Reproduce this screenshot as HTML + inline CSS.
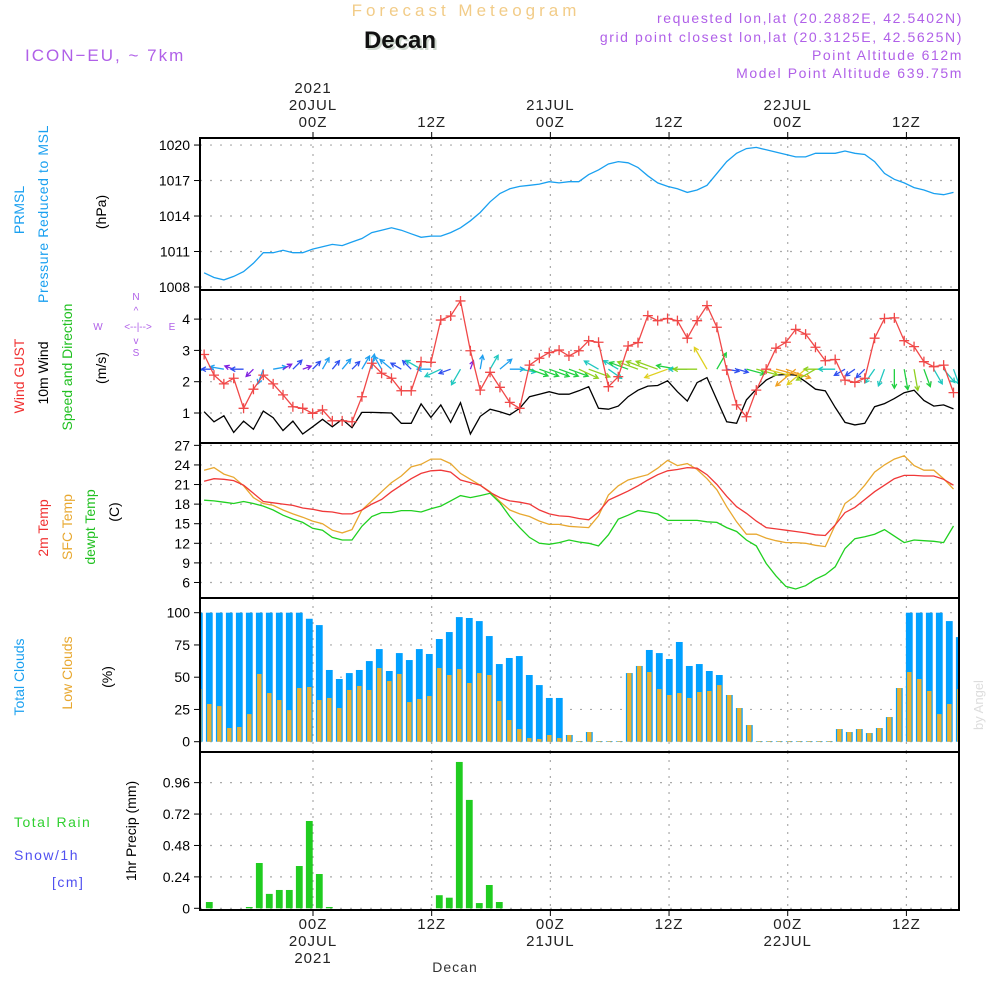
<!DOCTYPE html>
<html><head><meta charset="utf-8"><style>
html,body{margin:0;padding:0;background:#fff;}
svg{display:block;}
text{font-family:"Liberation Sans",sans-serif;}
</style></head><body>
<svg id="chart" width="1000" height="1000" viewBox="0 0 1000 1000" xmlns="http://www.w3.org/2000/svg">
<rect x="0" y="0" width="1000" height="1000" fill="#fff"/>
<text x="466" y="16" text-anchor="middle" font-size="17" fill="#f2cc88" letter-spacing="4">Forecast Meteogram</text>
<text x="400" y="48" text-anchor="middle" font-size="24" font-weight="bold" fill="#cfd8cf" font-family="Liberation Mono, Liberation Serif, monospace" transform="translate(2,2)">Decan</text>
<text x="400" y="48" text-anchor="middle" font-size="24" font-weight="bold" fill="#111" font-family="Liberation Mono, Liberation Serif, monospace">Decan</text>
<text x="25" y="61" font-size="17" fill="#b060e8" letter-spacing="2">ICON−EU, ~ 7km</text>
<g fill="#b060e8" font-size="14" text-anchor="end" letter-spacing="1.6">
<text x="963" y="23">requested lon,lat (20.2882E, 42.5402N)</text>
<text x="963" y="42">grid point closest lon,lat (20.3125E, 42.5625N)</text>
<text x="963" y="60">Point Altitude 612m</text>
<text x="963" y="78">Model Point Altitude 639.75m</text>
</g>
<g font-size="14">
<text transform="translate(24,210) rotate(-90)" text-anchor="middle" fill="#1aa0f0">PRMSL</text>
<text transform="translate(48,214) rotate(-90)" text-anchor="middle" fill="#1aa0f0" letter-spacing="0.6">Pressure Reduced to MSL</text>
<text transform="translate(106,212) rotate(-90)" text-anchor="middle" fill="#000">(hPa)</text>
<text transform="translate(24,376) rotate(-90)" text-anchor="middle" fill="#f03030">Wind GUST</text>
<text transform="translate(48,373) rotate(-90)" text-anchor="middle" fill="#000">10m Wind</text>
<text transform="translate(72,367) rotate(-90)" text-anchor="middle" fill="#20c020">Speed and Direction</text>
<text transform="translate(106,368) rotate(-90)" text-anchor="middle" fill="#000">(m/s)</text>
<text transform="translate(48,528) rotate(-90)" text-anchor="middle" fill="#f03030">2m Temp</text>
<text transform="translate(72,527) rotate(-90)" text-anchor="middle" fill="#e8a830">SFC Temp</text>
<text transform="translate(95,527) rotate(-90)" text-anchor="middle" fill="#20c020">dewpt Temp</text>
<text transform="translate(119,512) rotate(-90)" text-anchor="middle" fill="#000">(C)</text>
<text transform="translate(24,677) rotate(-90)" text-anchor="middle" fill="#1aa0f0">Total Clouds</text>
<text transform="translate(72,673) rotate(-90)" text-anchor="middle" fill="#e8a830">Low Clouds</text>
<text transform="translate(112,677) rotate(-90)" text-anchor="middle" fill="#000">(%)</text>
<text transform="translate(136,831) rotate(-90)" text-anchor="middle" fill="#000">1hr Precip (mm)</text>
<text x="14" y="827" fill="#30d030" letter-spacing="1.5">Total  Rain</text>
<text x="14" y="860" fill="#5050f0" letter-spacing="1.5">Snow/1h</text>
<text x="52" y="887" fill="#5050f0" letter-spacing="1.5">[cm]</text>
</g>
<g fill="#b060e8" font-size="10" text-anchor="middle">
<text x="136" y="300">N</text><text x="136" y="314">^</text>
<text x="98" y="330">W</text><text x="138" y="330">&lt;--|--&gt;</text><text x="172" y="330">E</text>
<text x="136" y="344">v</text><text x="136" y="356">S</text>
</g>
<text transform="translate(983,705) rotate(-90)" text-anchor="middle" font-size="13" fill="#dddddd" font-family="Liberation Serif">by Angel</text>
<text x="455" y="972" text-anchor="middle" font-size="14" fill="#333" font-family="Liberation Mono" letter-spacing="1">Decan</text>
<g id="plots"></g>
</svg>
<script>
const hours = [];
for (let h = -11; h <= 65; h++) hours.push(h);
const pressure = [1009.2,1008.8,1008.6,1008.9,1009.3,1010.0,1010.9,1010.9,1011.1,1010.9,1010.9,1011.2,1011.4,1011.6,1011.5,1011.8,1012.1,1012.6,1012.8,1013.0,1012.8,1012.5,1012.2,1012.3,1012.3,1012.6,1013.0,1013.6,1014.3,1015.2,1015.9,1016.3,1016.5,1016.6,1016.7,1016.9,1016.8,1016.9,1016.9,1017.5,1017.9,1018.4,1018.6,1018.5,1018.1,1017.4,1016.8,1016.5,1016.3,1016.0,1016.2,1016.6,1017.6,1018.6,1019.3,1019.7,1019.8,1019.6,1019.4,1019.2,1019.0,1019.0,1019.3,1019.3,1019.3,1019.5,1019.3,1019.2,1018.6,1017.6,1017.1,1016.8,1016.4,1016.2,1015.9,1015.8,1016.0];
const gust = [2.87,2.21,1.93,2.11,1.15,1.76,2.21,1.93,1.58,1.2,1.15,0.99,1.1,0.75,0.75,0.72,1.52,2.59,2.27,2.11,1.71,1.71,2.64,2.62,3.97,4.1,4.58,2.99,1.73,2.3,1.82,1.34,1.15,2.53,2.75,2.93,3.01,2.82,2.99,3.31,3.26,1.84,2.16,3.14,3.25,4.11,3.95,4.02,3.95,3.39,3.95,4.43,3.74,2.37,1.26,0.88,1.73,2.4,3.07,3.26,3.67,3.52,3.1,2.67,2.71,2.05,1.98,2.11,3.39,4.02,4.04,3.31,3.12,2.64,2.48,2.53,1.65];
const wind10 = [1.04,0.72,0.91,0.38,0.74,0.48,1.06,0.85,0.44,0.74,0.33,0.56,0.8,0.56,0.8,0.53,1.02,1.02,1.01,1.0,0.67,0.67,1.29,0.86,1.26,0.7,1.33,0.33,0.89,1.12,1.04,0.94,1.15,1.52,1.6,1.68,1.6,1.6,1.71,1.84,1.15,1.12,1.22,1.52,1.73,1.86,1.88,2.03,1.68,1.38,1.97,2.13,1.42,0.72,0.67,1.42,1.76,2.05,2.21,2.23,2.21,2.0,1.76,1.71,1.18,0.7,0.62,0.67,1.2,1.3,1.46,1.65,1.73,1.4,1.22,1.26,1.13];
const windDir = [250,270,280,290,270,225,200,80,60,45,70,45,30,40,40,45,30,10,330,310,300,315,300,270,245,250,210,20,10,30,50,90,100,110,110,110,110,110,115,110,300,125,300,290,290,290,290,250,280,270,270,330,30,100,105,105,105,105,105,110,230,230,240,270,270,240,235,225,215,200,180,170,170,160,150,140,160];
const temp2m = [21.5,21.9,21.8,21.6,20.9,19.65,18.4,18.2,18.0,17.8,17.4,17.2,16.9,16.8,16.5,16.5,17.1,18.0,18.7,19.9,20.9,21.9,22.7,23.1,23.2,22.9,21.7,21.3,20.9,19.8,19.0,18.5,18.3,18.0,17.1,16.5,16.2,16.1,15.8,15.6,16.8,18.6,19.3,20.0,20.8,21.7,22.5,23.1,23.3,23.6,23.5,22.5,21.0,19.2,17.6,16.6,15.4,14.4,14.2,14.0,13.8,13.6,13.3,13.2,14.8,16.7,17.5,18.7,19.9,20.9,21.9,22.4,22.4,22.3,22.3,21.8,20.9];
const tempSfc = [23.2,23.6,22.6,22.1,20.8,19.0,18.1,17.8,17.1,16.5,16.0,15.4,15.0,14.0,13.6,14.1,17.1,18.5,19.9,21.3,22.3,23.7,24.1,24.9,24.9,24.2,22.7,21.8,20.9,19.9,18.4,17.1,16.5,16.1,15.4,14.9,14.9,14.6,14.5,14.4,16.2,19.4,20.8,21.7,22.1,22.5,23.5,24.7,23.9,24.2,23.3,21.9,20.2,17.6,15.3,13.4,13.4,12.8,12.4,12.1,12.1,12.0,11.7,11.5,14.8,18.1,19.2,20.9,22.9,24.0,24.9,25.4,23.9,23.2,23.2,21.9,20.3];
const dewpt = [18.6,18.5,18.3,18.1,18.4,18.1,17.7,17.1,16.3,15.7,15.2,14.3,14.0,12.9,12.5,12.5,14.6,16.1,16.7,16.7,17.0,17.0,16.8,17.3,17.7,18.5,19.3,19.0,19.3,19.65,18.2,16.1,14.4,12.9,12.0,11.85,12.1,12.5,12.2,12.0,11.6,13.3,15.7,16.3,17.0,16.8,16.5,15.5,15.5,15.5,15.5,15.3,15.2,14.4,13.8,12.5,11.6,8.9,7.0,5.4,5.0,5.5,6.5,7.2,8.4,11.2,12.7,13.0,13.4,14.1,13.1,12.1,12.5,12.4,12.3,12.1,14.65];
const totalClouds = [100,100,100,100,100,100,100,100,100,100,100,95.3,90.4,55.6,48.6,53.2,55.6,62.5,71.8,54.8,68.7,63.3,71.8,68,79.6,85,96.6,95.9,93.5,81.9,60.2,64.9,66.4,51.7,43.9,33.9,33.9,5.2,0.5,7.5,0.5,0.5,0.5,53.2,58.7,71.1,68.7,64.1,77.3,58.7,60.2,54.8,51.7,36.2,26.1,12.9,0.5,0.5,0.5,0.5,0.5,0.5,0.5,0.5,9.8,7.5,9.8,6.7,10.6,19.1,41.6,100,100,100,100,93.5,81.1];
const lowClouds = [40.8,29.2,27.6,10.6,11.4,21.4,52.5,37.7,32.3,24.5,41.6,42.4,32.3,33.9,26.1,40.1,43.2,40.1,57.1,47.0,52.5,30.7,33.1,35.4,57.1,51.7,56.3,45.5,53.2,51.7,31.5,16.8,9.8,2.8,2.1,5.2,2.8,5.2,0.5,7.5,0.5,0.5,0.5,53.2,58.7,54,40.8,36.2,37.7,33.9,38.5,39.3,43.9,36.2,26.1,12.9,0.5,0.5,0.5,0.5,0.5,0.5,0.5,0.5,9.8,7.5,9.8,6.7,10.6,19.1,41.6,54,48.6,39.3,21.4,29.2,40.8];
const precip = [0,0.048,0,0,0,0.01,0.346,0.11,0.14,0.14,0.323,0.667,0.262,0.01,0,0,0,0,0,0,0,0,0,0,0.10,0.081,1.118,0.828,0.04,0.178,0.048,0,0,0,0,0,0,0,0,0,0,0,0,0,0,0,0,0,0,0,0,0,0,0,0,0,0,0,0,0,0,0,0,0,0,0,0,0,0,0,0,0,0,0,0,0,0];
const pressTicks = [1008,1011,1014,1017,1020];
const windTicks = [1,2,3,4];
const tempTicks = [6,9,12,15,18,21,24,27];
const cloudTicks = [0,25,50,75,100];
const precipTicks = [0,0.24,0.48,0.72,0.96];
const timeTicks = [0,12,24,36,48,60];
const topLabels = [["2021","20JUL","00Z"],["","","12Z"],["","21JUL","00Z"],["","","12Z"],["","22JUL","00Z"],["","","12Z"]];
const bottomLabels = [["00Z","20JUL","2021"],["12Z","",""],["00Z","21JUL",""],["12Z","",""],["00Z","22JUL",""],["12Z","",""]];

const NS = "http://www.w3.org/2000/svg";
const L = 200, R = 959;
const xLine = h => 312.6 + 9.86 * h;
const xBar = h => 309.3 + 10 * h;
const xTick = h => 313 + 9.89 * h;
const panels = {
  p: {top:138, bot:290, y: v => 287 - (v - 1008) * 11.83},
  w: {top:290, bot:443, y: v => 444.3 - v * 31.3},
  t: {top:443, bot:598, y: v => 543.3 - (v - 12) * 6.53},
  c: {top:598, bot:752, y: v => 741.7 - v * 1.29},
  r: {top:752, bot:910, y: v => 908.3 - v * 130.9}
};
const root = document.getElementById('plots');
function mk(tag, attrs, parent) {
  const e = document.createElementNS(NS, tag);
  for (const k in attrs) e.setAttribute(k, attrs[k]);
  (parent || root).appendChild(e);
  return e;
}
const defs = mk('defs', {});
const cp = mk('clipPath', {id: 'plotclip'}, defs);
mk('rect', {x: L, y: 138, width: R - L, height: 772}, cp);

function panelFrame(key, ticks, fmt, name) {
  const P = panels[key];
  const g = mk('g', {});
  
  
  ticks.forEach(v => {
    const y = P.y(v);
    mk('line', {x1: L, x2: R, y1: y, y2: y, stroke: '#aaa', 'stroke-width': 1.2, 'stroke-dasharray': '2,8'}, g);
    mk('line', {x1: L - 6, x2: L, y1: y, y2: y, stroke: '#000', 'stroke-width': 1}, g);
    const t = mk('text', {x: L - 10, y: y + 5, 'text-anchor': 'end', 'font-size': 14, fill: '#000'}, g);
    t.textContent = fmt(v);
  });
  timeTicks.forEach(h => {
    const x = xTick(h);
    mk('line', {x1: x, x2: x, y1: P.top, y2: P.bot, stroke: '#aaa', 'stroke-width': 1.2, 'stroke-dasharray': '2,6'}, g);
  });
}
panelFrame('p', pressTicks, v => String(v), 'pressure');
panelFrame('w', windTicks, v => String(v), 'wind');
panelFrame('t', tempTicks, v => String(v), 'temperature');
panelFrame('c', cloudTicks, v => String(v), 'clouds');
panelFrame('r', precipTicks, v => v === 0 ? '0' : v.toFixed(2), 'precip');

const tl = mk('g', {'font-size': 15, fill: '#222', 'text-anchor': 'middle', 'letter-spacing': 1});


timeTicks.forEach((h, i) => {
  const x = xTick(h);
  mk('line', {x1: x, x2: x, y1: 132, y2: 138, stroke: '#000'}, tl);
  mk('line', {x1: x, x2: x, y1: 910, y2: 916, stroke: '#000'}, tl);
  topLabels[i].forEach((s, j) => { if (s) { const t = mk('text', {x: x, y: 93 + j * 17}, tl); t.textContent = s; } });
  bottomLabels[i].forEach((s, j) => { if (s) { const t = mk('text', {x: x, y: 929 + j * 17}, tl); t.textContent = s; } });
});

const cg = mk('g', {'clip-path': 'url(#plotclip)'});


hours.forEach((h, i) => {
  const x = xBar(h), P = panels.c;
  const b = mk('rect', {x: x - 3.4, y: P.y(totalClouds[i]), width: 6.8, height: P.y(0) - P.y(totalClouds[i]), fill: '#00a0ff'}, cg);
  
  
  const o = mk('rect', {x: x - 2.2, y: P.y(lowClouds[i]), width: 4.4, height: P.y(0) - P.y(lowClouds[i]), fill: '#e8b030'}, cg);
  
  
});

const rg = mk('g', {'clip-path': 'url(#plotclip)'});


hours.forEach((h, i) => {
  if (precip[i] <= 0) return;
  const P = panels.r, x = xBar(h);
  const b = mk('rect', {x: x - 3.4, y: P.y(precip[i]), width: 6.8, height: P.y(0) - P.y(precip[i]), fill: '#20cc20'}, rg);
  
  
});

function line(key, arr, color, name, w) {
  const P = panels[key];
  const d = arr.map((v, i) => (i ? 'L' : 'M') + xLine(hours[i]).toFixed(1) + ',' + P.y(v).toFixed(1)).join('');
  const p = mk('path', {d: d, fill: 'none', stroke: color, 'stroke-width': w || 1.3, 'clip-path': 'url(#plotclip)'});
  
  
  return p;
}
line('p', pressure, '#1aa0f0', 'pressure-line');
line('t', tempSfc, '#e8a830', 'sfc-temp-line');
line('t', temp2m, '#f03838', 'temp-2m-line');
line('t', dewpt, '#20d020', 'dewpoint-line');
line('w', wind10, '#000', 'wind-10m-line');

function spdColor(s) {
  if (s < 0.5) return '#8020e0';
  if (s < 0.8) return '#3050f0';
  if (s < 1.1) return '#20a0f0';
  if (s < 1.4) return '#20c8c0';
  if (s < 1.7) return '#20d040';
  if (s < 2.0) return '#90d020';
  if (s < 2.15) return '#e0d020';
  return '#f0a020';
}
const ag = mk('g', {'clip-path': 'url(#plotclip)'});


hours.forEach((h, i) => {
  const x0 = xLine(h), y0 = panels.w.y(2.4);
  const len = 6 + wind10[i] * 9;
  const a = windDir[i] * Math.PI / 180;
  const x1 = x0 + Math.sin(a) * len, y1 = y0 - Math.cos(a) * len;
  const c = spdColor(wind10[i]);
  const hx1 = x1 - Math.sin(a - 0.5) * 5, hy1 = y1 + Math.cos(a - 0.5) * 5;
  const hx2 = x1 - Math.sin(a + 0.5) * 5, hy2 = y1 + Math.cos(a + 0.5) * 5;
  const p = mk('path', {d: `M${x0},${y0}L${x1},${y1}M${hx1},${hy1}L${x1},${y1}L${hx2},${hy2}`, stroke: c, 'stroke-width': 1.3, fill: 'none'}, ag);
  
  
});

line('w', gust, '#f04848', 'gust-line');
const gg = mk('g', {stroke: '#f04848', 'stroke-width': 1.3, 'clip-path': 'url(#plotclip)'});


hours.forEach((h, i) => {
  const x = xLine(h), y = panels.w.y(gust[i]);
  mk('path', {d: `M${x-5},${y}H${x+5}M${x},${y-5}V${y+5}`}, gg);
});

const bg = mk('g', {fill: 'none', stroke: '#000', 'stroke-width': 2});


Object.keys(panels).forEach(k => {
  const P = panels[k];
  mk('rect', {x: L, y: P.top, width: R - L, height: P.bot - P.top}, bg);
});
</script>
</body></html>
